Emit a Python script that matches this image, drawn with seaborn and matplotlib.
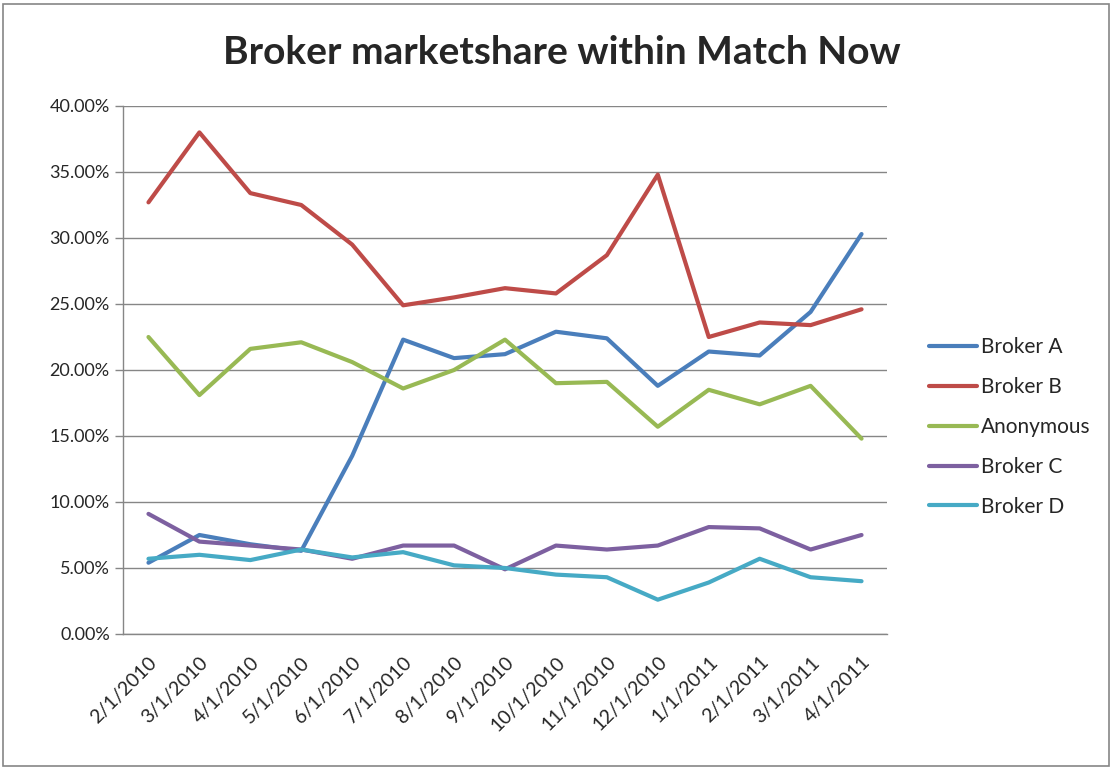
import pandas as pd
import matplotlib
matplotlib.use("Agg")
import matplotlib.pyplot as plt
import seaborn as sns
from matplotlib.patches import Rectangle
from matplotlib.ticker import FuncFormatter, FixedLocator

months = ["2/1/2010", "3/1/2010", "4/1/2010", "5/1/2010", "6/1/2010", "7/1/2010",
          "8/1/2010", "9/1/2010", "10/1/2010", "11/1/2010", "12/1/2010",
          "1/1/2011", "2/1/2011", "3/1/2011", "4/1/2011"]

broker_a = [5.4, 7.5, 6.8, 6.3, 13.5, 22.3, 20.9, 21.2, 22.9, 22.4, 18.8, 21.4, 21.1, 24.4, 30.3]
broker_b = [32.7, 38.0, 33.4, 32.5, 29.5, 24.9, 25.5, 26.2, 25.8, 28.7, 34.8, 22.5, 23.6, 23.4, 24.6]
anonymous = [22.5, 18.1, 21.6, 22.1, 20.6, 18.6, 20.0, 22.3, 19.0, 19.1, 15.7, 18.5, 17.4, 18.8, 14.8]
broker_c = [9.1, 7.0, 6.7, 6.4, 5.7, 6.7, 6.7, 4.9, 6.7, 6.4, 6.7, 8.1, 8.0, 6.4, 7.5]
broker_d = [5.7, 6.0, 5.6, 6.4, 5.8, 6.2, 5.2, 5.0, 4.5, 4.3, 2.6, 3.9, 5.7, 4.3, 4.0]

series_names = ["Broker A", "Broker B", "Anonymous", "Broker C", "Broker D"]
colors = ["#4A7EBB", "#BE4B48", "#98B954", "#7D60A0", "#46AAC5"]


def build_frame():
    rows = []
    for name, values in zip(series_names, [broker_a, broker_b, anonymous, broker_c, broker_d]):
        for i, v in enumerate(values):
            rows.append({"pos": i, "month": months[i], "series": name, "share": v})
    return pd.DataFrame(rows)


def main():
    sns.set_style("white")
    plt.rcParams["font.family"] = ["Lato", "DejaVu Sans"]

    df = build_frame()
    fig = plt.figure(figsize=(11.13, 7.68), dpi=100)
    ax = fig.add_axes([123 / 1113, 1 - 634 / 768, (887 - 123) / 1113, (634 - 106) / 768])

    sns.lineplot(data=df, x="pos", y="share", hue="series", hue_order=series_names,
                 palette=colors, linewidth=3, ax=ax, legend=True)

    ax.set_xlim(-0.5, len(months) - 0.5)
    ax.set_ylim(0, 40)
    ax.set_yticks(range(0, 41, 5))
    ax.yaxis.set_major_formatter(FuncFormatter(lambda v, p: f"{v:.2f}%"))
    ax.set_xticks(range(len(months)))
    ax.set_xticklabels(months, rotation=45, ha="right", rotation_mode="anchor", fontsize=14)
    ax.xaxis.set_minor_locator(FixedLocator([i - 0.5 for i in range(len(months) + 1)]))
    ax.tick_params(axis="x", which="major", length=0, pad=14)
    ax.tick_params(axis="x", which="minor", length=6, color="#868686", width=1)
    ax.tick_params(axis="y", length=6, color="#868686", width=1, labelsize=13, direction="out", left=True)
    ax.grid(axis="y", color="#868686", linewidth=1)
    ax.set_axisbelow(True)
    for side in ["top", "right"]:
        ax.spines[side].set_visible(False)
    for side in ["left", "bottom"]:
        ax.spines[side].set_color("#868686")
        ax.spines[side].set_linewidth(1)
    ax.set_xlabel("")
    ax.set_ylabel("")

    handles, labels = ax.get_legend_handles_labels()
    ax.legend(handles, labels, loc="center left", bbox_to_anchor=(910 / 1113, 1 - 427 / 768),
              bbox_transform=fig.transFigure, frameon=False, fontsize=15,
              handlelength=2.3, handletextpad=0.2, labelspacing=0.95)

    fig.text(562 / 1113, 1 - 52 / 768, "Broker marketshare within Match Now",
             ha="center", va="center", fontsize=28, fontweight="bold")

    fig.patches.append(Rectangle((3 / 1113, 2 / 768), 1106 / 1113, 762 / 768, transform=fig.transFigure,
                                 fill=False, edgecolor="#868686", linewidth=1.2))

    fig.savefig("out.png", dpi=100)


if __name__ == "__main__":
    main()
